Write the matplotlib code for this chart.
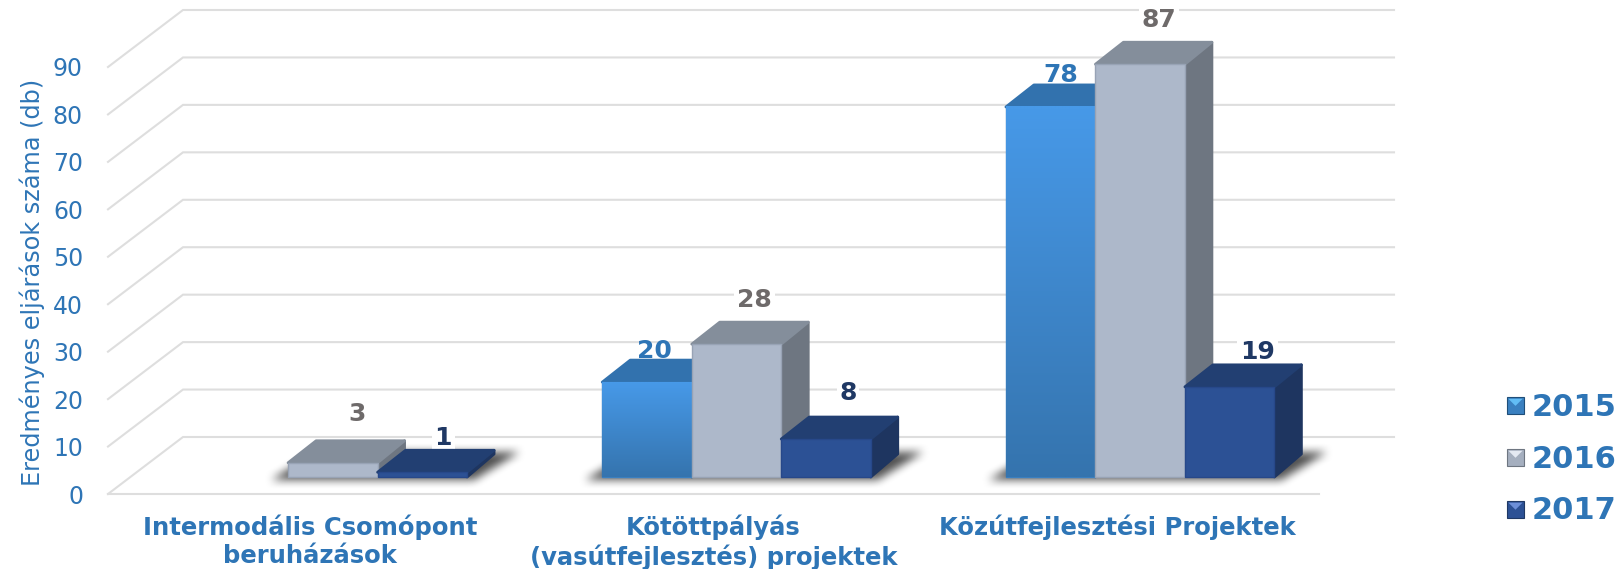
"""
Eredmenyes eljarasok szama - fake 3D column chart
Front faces are ordinary bars, the sides and tops are worked out from the same values
"""

import numpy as np
import matplotlib
matplotlib.use("Agg")
import matplotlib.pyplot as plt
from matplotlib.legend_handler import HandlerBase
from matplotlib.patches import Patch, Polygon, Rectangle
from matplotlib.transforms import Affine2D, IdentityTransform

categories = ["Intermodális Csomópont\nberuházások",
              "Kötöttpályás\n(vasútfejlesztés) projektek",
              "Közútfejlesztési Projektek"]
years = ["2015", "2016", "2017"]
values_2015 = [np.nan, 20, 78]
values_2016 = [3, 28, 87]
values_2017 = [1, 8, 19]
y_ticks = [0, 10, 20, 30, 40, 50, 60, 70, 80, 90]

W, H = 1618, 569
BLUE = "#2E75B6"
GREY_TXT = "#6E6A6A"
NAVY_TXT = "#1F3864"
# front, top, side, front edge
COLORS = [("#4799E8", "#3272AE", "#2A5F92", "#3A7FC0"),
          ("#ADB8CA", "#848E9B", "#6E7681", "#98A3B5"),
          ("#2C5195", "#223F72", "#1E3560", "#27488A")]
WALL = (75, 57)       # px from front of the floor to the back wall
BAR_FRONT = (23, 17)  # px from front of the floor to bar front
BAR_DEPTH = (28, 23)
BAR_W = 89.5 / 403.7  # in category units
# label offset from the centre of the bar's top back edge, px
LABEL_OFF = {"2015": [None, (-7, 8), (-4, 9)],
             "2016": [(10, 26), (4, 21), (5, 21)],
             "2017": [(7, 11), (8, 23), (14, 12)]}

fig = plt.figure(figsize=(W / 100, H / 100), dpi=100)
ax = fig.add_axes([108 / W, (H - 494) / H, 1211 / W, 427 / H])
ax.set_xlim(-0.5, 2.5)
ax.set_ylim(0, 90)
ax.patch.set_alpha(0)
for s in ax.spines.values():
    s.set_visible(False)

px = IdentityTransform()

def to_px(x, v, off=(0, 0)):
    p = ax.transData.transform((x, v))
    return p[0] + off[0], p[1] + off[1]

def box_blur(img, r):
    # blur along both axes with a running mean
    kernel = np.ones(2 * r + 1) / (2 * r + 1)
    for axis in (0, 1):
        img = np.apply_along_axis(lambda m: np.convolve(m, kernel, mode="same"), axis, img)
    return img

# walls
for v in y_ticks:
    a = to_px(-0.5, v)
    b = to_px(-0.5, v, WALL)
    c = to_px(2.5, v, WALL)
    ax.plot([a[0], b[0], c[0]], [a[1], b[1], c[1]], color="#DEDEDE", lw=1.5,
            transform=px, clip_on=False, zorder=1, solid_joinstyle="miter")
a, b = to_px(-0.5, 0), to_px(2.5, 0)
ax.plot([a[0], b[0]], [a[1], b[1]], color="#DEDEDE", lw=1.5, transform=px, clip_on=False, zorder=1)

front_tr = ax.transData + Affine2D().translate(*BAR_FRONT)
offsets = [-BAR_W, 0, BAR_W]
series = [values_2015, values_2016, values_2017]

# soft floor shadow under each group
mask = np.zeros((H, W))
for g in range(3):
    present = [j for j in range(3) if not np.isnan(series[j][g])]
    l = to_px(g + offsets[present[0]] - BAR_W / 2, 0, BAR_FRONT)
    r = to_px(g + offsets[present[-1]] + BAR_W / 2, 0, BAR_FRONT)
    y0, y1 = int(l[1]) - 3, int(l[1]) + 25
    for row in range(y0, y1):
        t = (row - y0) / (y1 - y0)
        mask[row, int(l[0] - 16 + t * 46):int(r[0] + 8 + t * 46)] = 1
mask = box_blur(box_blur(mask, 5), 4)
shadow = np.zeros((H, W, 4))
shadow[..., 3] = mask * 0.68
ax.imshow(shadow, extent=[0, W, 0, H], origin="lower", aspect="auto", transform=px,
          zorder=2, clip_on=False)

z = 3
for j, vals in enumerate(series):
    front, top, side, edge = COLORS[j]
    for g, v in enumerate(vals):
        if np.isnan(v):
            continue
        x = g + offsets[j]
        z += 1
        x0, x1 = x - BAR_W / 2, x + BAR_W / 2
        p00 = to_px(x1, 0, BAR_FRONT)
        p01 = to_px(x1, v, BAR_FRONT)
        p10 = to_px(x0, v, BAR_FRONT)
        dx, dy = BAR_DEPTH
        ax.add_patch(Polygon([p00, p01, (p01[0] + dx - 1, p01[1] + dy - 1), (p00[0] + dx - 1, p00[1] + dy)],
                             closed=True, transform=px, fc=side, ec=side, lw=2, joinstyle="round",
                             zorder=z, clip_on=False))
        ax.add_patch(Polygon([p10, p01, (p01[0] + dx - 1, p01[1] + dy - 1), (p10[0] + dx, p10[1] + dy - 1)],
                             closed=True, transform=px, fc=top, ec=top, lw=2, joinstyle="round",
                             zorder=z, clip_on=False))
        ax.bar(x, v, BAR_W, color=front, edgecolor=edge, lw=1.0, transform=front_tr,
               zorder=z, clip_on=False)
        if j == 0:
            # the 2015 columns fade downwards
            grad = np.linspace(0, 1, 64).reshape(-1, 1, 1)
            c0 = np.array(matplotlib.colors.to_rgb("#4799E8"))
            c1 = np.array(matplotlib.colors.to_rgb("#3574AE"))
            ax.imshow(c0 + (c1 - c0) * grad, extent=[x0, x1, 0, v], aspect="auto",
                      transform=front_tr, zorder=z + 0.5, clip_on=False, interpolation="bilinear")
        # value label
        off = LABEL_OFF[years[j]][g]
        cx = (p10[0] + p01[0]) / 2 + dx / 2 + off[0]
        cy = p01[1] + dy + off[1]
        col = [BLUE, GREY_TXT, NAVY_TXT][j]
        box = dict(fc="white", ec="none", pad=2) if j > 0 else None
        ax.text(cx, cy, f"{v:.0f}", transform=px, ha="center", va="center", fontsize=18,
                fontweight="bold", color=col, zorder=3 if j > 0 else 60, bbox=box, clip_on=False)

ax.set_xlim(-0.5, 2.5)
ax.set_ylim(0, 90)

ax.set_yticks(y_ticks)
ax.tick_params(axis="y", length=0, pad=18, labelsize=17, labelcolor=BLUE)
ax.set_xticks(range(3))
ax.set_xticklabels(categories, fontsize=17.5, fontweight="bold", color=BLUE, linespacing=1.19)
ax.tick_params(axis="x", length=0, pad=15)
ax.set_ylabel("Eredményes eljárások száma (db)", fontsize=17.3, color=BLUE)
ax.yaxis.set_label_coords((45 - 108) / 1211, (494 - 282) / 427)


class BevelHandler(HandlerBase):
    def create_artists(self, legend, orig, xd, yd, width, height, fontsize, trans):
        s = 12.2
        x, y = 0, (height - s) / 2
        sq = Rectangle((x, y), s, s, fc=orig.get_facecolor(), ec=orig.get_edgecolor(), lw=0.8, transform=trans)
        tri = Polygon([(x + 1, y + s - 1), (x + s - 1, y + s - 1), (x + s / 2, y + s / 2)],
                      closed=True, fc=orig.get_hatch() or "white", ec="none", transform=trans)
        return [sq, tri]


handles = [Patch(fc=c, ec=e, hatch=h) for c, e, h in
           [("#3A80C0", "#1F4E79", "#62BDF5"), ("#A5AFBF", "#6E7681", "#E4E9F2"), ("#2C5195", "#1F3864", "#6C8FD8")]]
leg = ax.legend(handles, years, handler_map={Patch: BevelHandler()}, loc="center left",
                bbox_to_anchor=(1507 / W, (H - 459) / H), bbox_transform=fig.transFigure,
                frameon=False, borderpad=0, borderaxespad=0, handlelength=0.56, handleheight=0.6,
                handletextpad=0.26, labelspacing=0.75, prop=dict(size=22, weight="bold"))
for t in leg.get_texts():
    t.set_color(BLUE)

fig.savefig("out.png", dpi=100)
